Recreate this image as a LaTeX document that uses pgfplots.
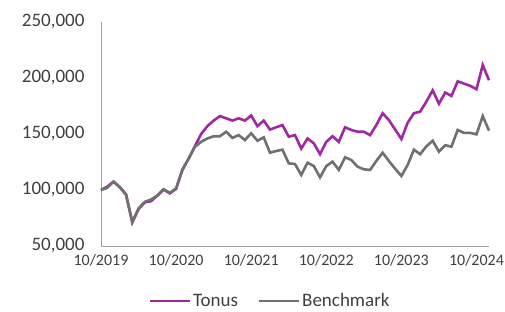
\documentclass[border=0pt]{standalone}
\usepackage{pgfplots}
\pgfplotsset{compat=1.18}
\usepackage{pgfplotstable}
\usepackage{fontspec}
\setmainfont{Carlito}
\definecolor{tonus}{RGB}{160,40,160}
\definecolor{bench}{RGB}{112,112,112}
\definecolor{axisgray}{RGB}{160,160,160}
\definecolor{txt}{RGB}{64,64,64}
\pgfplotstableread{
m tonus bench
0 100000 100000
1 103000 102000
2 107500 107500
3 102500 102500
4 96000 96000
5 71000 71500
6 83000 83500
7 89000 89500
8 90000 91500
9 95000 95000
10 100500 100500
11 97000 97500
12 101000 101500
13 118000 118000
14 128000 128000
15 139000 138500
16 150000 143000
17 157000 146000
18 162000 148000
19 166000 148000
20 164000 152000
21 162000 146500
22 164000 149000
23 162000 144600
24 166500 150600
25 157000 144000
26 162000 147000
27 154000 133300
28 156000 134800
29 158000 136000
30 147600 123800
31 149000 123200
32 137000 113400
33 146000 124400
34 141700 121400
35 132000 111300
36 143000 121400
37 148000 125300
38 143000 117900
39 156000 129200
40 153600 126800
41 152000 120800
42 152000 118500
43 149000 117900
44 158000 126000
45 168500 133300
46 162500 126000
47 154000 119000
48 145500 112500
49 160000 122300
50 168500 136000
51 170000 132000
52 179000 139000
53 189000 144000
54 177000 134200
55 187000 140000
56 184000 138700
57 197000 153600
58 195000 151000
59 193000 151000
60 190000 149700
61 211600 166000
62 198000 153000
}\datatable
\begin{document}
\begin{tikzpicture}
\useasboundingbox (-101pt,-65pt) rectangle (404pt,246pt);
\begin{axis}[
  at={(0,0)}, anchor=south west,
  scale only axis,
  width=388pt, height=224pt,
  xmin=0, xmax=62,
  ymin=50000, ymax=250000,
  scaled y ticks=false,
  axis x line=bottom, axis y line=left,
  axis line style={draw=axisgray, line width=0.8pt, -},
  major tick length=0pt,
  xtick={0,12,24,36,48,60},
  xticklabels={10/2019,10/2020,10/2021,10/2022,10/2023,10/2024},
  ytick={50000,100000,150000,200000,250000},
  yticklabels={{50,000},{100,000},{150,000},{200,000},{250,000}},
  x tick label style={font=\fontsize{16}{18}\selectfont, text=txt, yshift=-5pt},
  y tick label style={font=\fontsize{19}{21}\selectfont, text=txt, xshift=-13pt},
  legend columns=2,
  legend style={draw=none, fill=none, at={(0.436,-0.2455)}, anchor=center,
    font=\fontsize{19}{21}\selectfont, text=txt,
    /tikz/every even column/.append style={column sep=18pt},
    inner sep=0pt},
  legend image code/.code={\draw[#1, line width=2.2pt] (0pt,0pt) -- (40pt,0pt);},
  clip=false,
]
\addplot[color=tonus, line width=2.6pt] table[x=m, y=tonus] {\datatable};
\addlegendentry{Tonus}
\addplot[color=bench, line width=2.6pt] table[x=m, y=bench] {\datatable};
\addlegendentry{Benchmark}
\end{axis}
\end{tikzpicture}
\end{document}
